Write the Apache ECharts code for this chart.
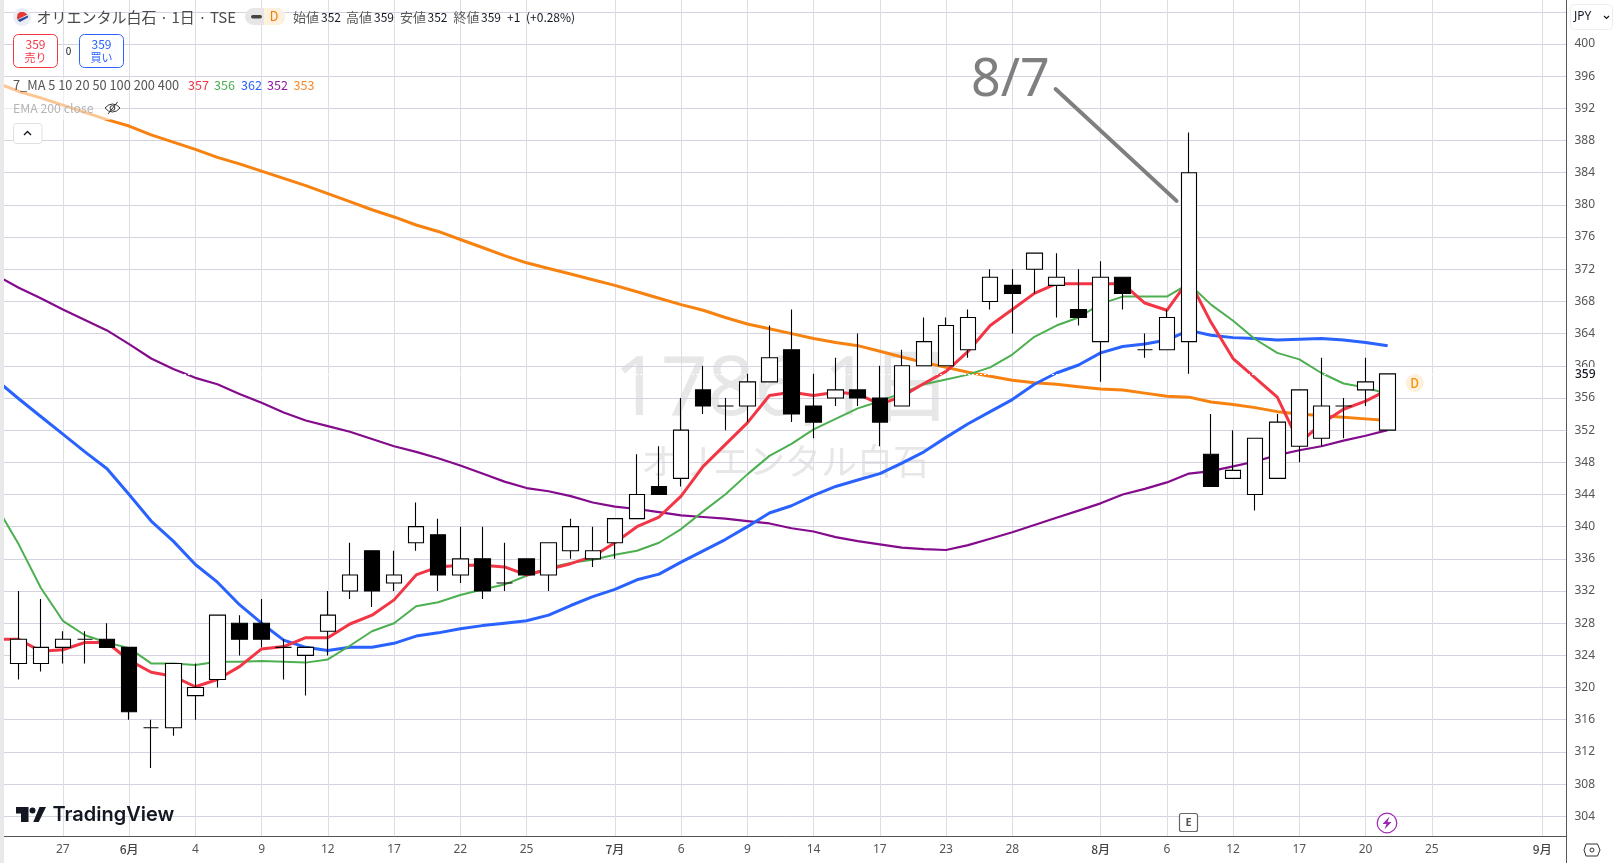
<!DOCTYPE html>
<html><head><meta charset="utf-8">
<style>html,body{margin:0;padding:0;background:#fff;overflow:hidden}#c{width:1615px;height:863px}</style>
<script src="https://cdn.jsdelivr.net/npm/echarts@6/dist/echarts.min.js"></script>
</head><body><div id="c"></div>
<script>
const opens =[323,323,325,326,326,325,315,315,319,321,328,328,325,324,327,332,337,333,338,339,334,336,333,336,334,337,336,338,341,345,346,357,355,355,358,362,355,356,357,356,355,360,360,362,368,370,372,370,367,363,371,362,362,363,349,346,344,346,350,351,355,357,352];
const closes=[326,325,326,326,325,317,315,323,320,329,326,326,325,325,329,334,332,334,340,334,336,332,333,334,338,340,337,341,344,344,352,355,355,358,361,354,353,357,356,353,360,363,365,366,371,369,374,371,366,371,369,362,366,384,345,347,351,353,357,355,355,358,359];
const highs =[332,331,327,327,328,325,316,323,323,329,329,331,326,325,332,338,337,337,343,341,340,340,338,336,338,341,340,341,349,350,356,360,356,359,365,367,359,361,364,360,362,366,366,367,372,372,374,374,372,373,371,364,367,389,354,352,351,354,357,361,356,361,359];
const lows  =[321,322,323,323,325,316,310,314,316,320,324,325,321,319,324,331,330,332,337,332,333,331,332,334,332,336,335,336,341,344,345,354,352,353,358,353,351,355,355,350,355,360,360,361,367,364,369,366,365,358,367,361,362,359,345,346,342,346,348,350,351,355,352];
// moving averages start one session before the first candle (index -1)
const maRed   =[326,326,324.5,324.7,325.6,325.6,323.4,321.9,321.4,320.1,321,322.6,324.8,325.1,326.2,326.2,327.9,329,330.9,334,335,335.2,335.2,335,334,334.7,335.4,336.3,338,340,341.2,343.8,347.5,350.2,352.9,356.3,356.7,356.3,356.7,356.5,355.2,356.2,357.8,359.3,361.8,365,367,369,370.2,370.2,370.2,370.2,367.8,366.9,370.7,365.4,360.9,358.5,356.1,350.4,352.8,354.6,355.6,357];
const maGreen =[342.5,337.8,332.4,328.3,326.5,325.6,324.9,323,323,322.8,323.2,323.2,323.3,323.2,323.1,323.5,325.2,327,328,330.1,330.6,331.5,332.2,332.8,333.9,334.9,335.5,335.9,336.5,337,338,339.7,341.9,344,346.5,348.8,350.3,352.1,353.4,354.7,355.6,356.6,357.7,358.3,358.9,359.8,361.4,363.6,365,366,367.7,368.6,368.6,368.6,370.2,367.6,365.6,363.3,361.6,360.8,359.1,357.8,357.3,356.5];
const maBlue  =[358.2,355.9,353.7,351.5,349.3,347.2,344,340.7,338.2,335.3,333.1,330.3,328,325.9,325,324.6,325,325,325.5,326.4,326.8,327.3,327.7,328,328.3,329,330.2,331.3,332.2,333.4,334.1,335.6,337,338.4,340,341.7,342.6,343.9,345,345.8,346.6,347.9,349.3,351.1,352.8,354.3,355.8,357.7,359.1,360.1,361.6,362.4,362.7,363.2,364.4,363.8,363.5,363.4,363.2,363.3,363.4,363.2,362.9,362.5];
const maPurple=[371.2,369.7,368.4,367,365.7,364.4,362.7,360.9,359.6,358.5,357.7,356.5,355.4,354.2,353.2,352.5,351.8,350.9,350,349.3,348.5,347.6,346.6,345.6,344.8,344.4,343.8,343,342.5,342.2,341.8,341.4,341.2,341,340.7,340.4,339.8,339.4,338.7,338.2,337.8,337.4,337.2,337.1,337.7,338.5,339.3,340.2,341.1,342,342.9,344,344.7,345.5,346.6,346.9,347.5,348.1,348.9,349.5,350,350.7,351.3,352];
const maOrange=[395.2,394.1,393.3,392.4,391.5,390.6,389.8,388.7,387.8,386.9,385.9,385.1,384.2,383.3,382.4,381.4,380.4,379.4,378.5,377.5,376.7,375.7,374.7,373.7,372.8,372.1,371.4,370.7,370,369.2,368.4,367.6,366.9,366,365.2,364.6,364,363.4,362.9,362.5,361.8,361.1,360.4,359.8,359.2,358.7,358.2,357.9,357.7,357.4,357.1,357,356.6,356.2,356.1,355.5,355.2,354.8,354.3,354,353.8,353.6,353.4,353.2];
const xTickIndex =[2,5,8,11,14,17,20,23,27,30,33,36,39,42,45,49,52,55,58,61,64,69];
const xTickLabels=['27','6月','4','9','12','17','22','25','7月','6','9','14','17','23','28','8月','6','12','17','20','25','9月'];
const yTicks=[304,308,312,316,320,324,328,332,336,340,344,348,352,356,360,364,368,372,376,380,384,388,392,396,400,404];
const annotationLine=[[46.96,394.4],[52.44,380.5]];
const lastPrice=359;

const FONT='"Noto Sans CJK JP","Noto Sans",sans-serif';
const candles=opens.map((o,i)=>[i,o,closes[i],lows[i],highs[i]]);
const maSeries=(name,arr,color,width)=>({name,type:'line',data:arr.map((v,i)=>[i-1,v]),symbol:'none',silent:true,z:2,
  lineStyle:{color,width,join:'round'},clip:true});
const tx=(x,y,text,size,fill,extra)=>({type:'text',x,y,z:33,style:Object.assign({text,fontSize:size,fill,fontFamily:FONT,verticalAlign:'middle'},extra||{})});

const chart=echarts.init(document.getElementById('c'),null,{renderer:'canvas'});
const hdr=[];
const stat=[[293,'始値',321,'352'],[346,'高値',374,'359'],[400,'安値',427.5,'352'],[453.6,'終値',481,'359']];
stat.forEach(s=>{hdr.push(tx(s[0],17,s[1],13,'#5a5a5a'));hdr.push(tx(s[2],17.5,s[3],12,'#131722'));});
hdr.push(tx(507,17.5,'+1',12,'#131722'),tx(526,17.5,'(+0.28%)',12,'#131722'));
const ma=[[13,'7_MA 5 10 20 50 100 200 400','#555',12.8],[188,'357','#f23645',12.6],[214,'356','#4caf50',12.6],[241,'362','#2962ff',12.6],[267,'352','#8e1a9e',12.6],[293.6,'353','#f5882a',12.6]];
ma.forEach(m=>hdr.push(tx(m[0],85,m[1],m[3],m[2])));

const graphics=[
 {type:'rect',z:40,shape:{x:0,y:0,width:4,height:863},style:{fill:'#e9e9e9'}},
 {type:'text',x:783,y:392,z:-1,style:{text:'1786,1日',fontSize:82,fill:'#e7e7e7',fontFamily:'"Noto Sans","Noto Sans CJK JP"',align:'center',verticalAlign:'middle'}},
 {type:'text',x:785,y:461,z:-1,style:{text:'オリエンタル白石',fontSize:36,fill:'#e7e7e7',fontFamily:FONT,align:'center',verticalAlign:'middle'}},
 {type:'rect',z:20,shape:{x:4,y:78,width:106.5,height:42},style:{fill:'rgba(255,255,255,0.55)'}},
 // symbol logo
 {type:'circle',z:30,shape:{cx:22,cy:17,r:9},style:{fill:'#e9edf5'}},
 {type:'polygon',z:31,shape:{points:[[17,18],[17.5,14],[20,12],[24,12],[27.5,14.5],[17.5,19.5]]},style:{fill:'#e53935'}},
 {type:'polygon',z:31,shape:{points:[[17.5,20],[28,15.5],[28,17.5],[20,22]]},style:{fill:'#2d4da0'}},
 tx(36.4,17,'オリエンタル白石 · 1日 · TSE',15,'#4a4a4a'),
 {type:'rect',z:30,shape:{x:245,y:8,width:40,height:17,r:8.5},style:{fill:'#e6e6e6'}},
 {type:'rect',z:31,shape:{x:264,y:8,width:21,height:17,r:[0,8.5,8.5,0]},style:{fill:'#fdf0dd'}},
 {type:'rect',z:32,shape:{x:251,y:15,width:11,height:3.4,r:1.7},style:{fill:'#444'}},
 tx(274,16.5,'D',12.5,'#f57c00',{align:'center'}),
 // trade buttons
 {type:'rect',z:30,shape:{x:13.5,y:34.5,width:44,height:33,r:5},style:{fill:'#fff',stroke:'#f23645',lineWidth:1}},
 tx(35.5,44,'359',12,'#f23645',{align:'center'}),tx(35.5,58,'売り',11,'#f23645',{align:'center'}),
 tx(68.6,51,'0',10,'#131722',{align:'center'}),
 {type:'rect',z:30,shape:{x:79.5,y:34.5,width:44,height:33,r:5},style:{fill:'#fff',stroke:'#2962ff',lineWidth:1}},
 tx(101.5,44,'359',12,'#2962ff',{align:'center'}),tx(101.5,58,'買い',11,'#2962ff',{align:'center'}),
 tx(13,108,'EMA 200 close',12.3,'#b4b4b4'),
 {type:'polygon',z:31,shape:{points:[[105,108],[108.5,105],[112.5,104],[116.5,105],[120,108],[116.5,111],[112.5,112],[108.5,111]]},style:{fill:'#fff',stroke:'#333',lineWidth:1}},
 {type:'circle',z:32,shape:{cx:112.5,cy:108,r:2.4},style:{fill:'none',stroke:'#333',lineWidth:1}},
 {type:'line',z:32,shape:{x1:108,y1:114,x2:117.5,y2:102},style:{stroke:'#333',lineWidth:1}},
 {type:'rect',z:30,shape:{x:13.5,y:123.5,width:28.5,height:20,r:3},style:{fill:'#fff',stroke:'#e0e0e0',lineWidth:1}},
 {type:'polyline',z:31,shape:{points:[[24,135],[27.5,131.5],[31,135]]},style:{stroke:'#131722',lineWidth:1.4,fill:'none'}},
 // annotation text
 {type:'text',x:971,y:81,z:25,style:{text:'8/7',fontSize:52,fill:'#7f7f7f',fontFamily:'"Noto Sans"',verticalAlign:'middle'}},
 // price scale furniture
 {type:'rect',z:30,shape:{x:1570.5,y:4.5,width:42,height:25,r:4},style:{fill:'#fff',stroke:'#eeeeee',lineWidth:1}},
 tx(1574,17,'JPY',12,'#131722',{fontFamily:'"Noto Sans"'}),
 {type:'polyline',z:31,shape:{points:[[1604,16],[1606.5,18.5],[1609,16]]},style:{stroke:'#131722',lineWidth:1.2,fill:'none'}},
 {type:'text',x:1575,y:375,z:30,style:{text:String(lastPrice),fontSize:12,fill:'#131722',fontFamily:'"Noto Sans"',verticalAlign:'middle',backgroundColor:'#fff',padding:[2,6,2,0],fontWeight:500}},
 // last bar badge
 {type:'circle',z:30,shape:{cx:1414.7,cy:383,r:9},style:{fill:'#fdf0dd'}},
 tx(1414.7,383,'D',12.5,'#f7930e',{align:'center',fontWeight:500}),
 // earnings and dividend-style event marks
 {type:'rect',z:30,shape:{x:1179.5,y:813.5,width:18,height:18,r:2},style:{fill:'#fff',stroke:'#666',lineWidth:1.2}},
 tx(1188.5,822.5,'E',11,'#555',{align:'center',fontWeight:700,fontFamily:'"Noto Sans"'}),
 {type:'circle',z:30,shape:{cx:1387,cy:823,r:9.8},style:{fill:'#fff',stroke:'#9c27b0',lineWidth:1.2}},
 {type:'polygon',z:31,shape:{points:[[1389.5,816.5],[1382.5,824],[1386.5,824],[1384.5,829.5],[1391.5,822],[1387.5,822]]},style:{fill:'#9c27b0'}},
 // settings hex
 {type:'polygon',z:30,shape:{points:[[1586,844],[1597.5,844],[1600,850],[1597.5,856],[1586,856],[1584,850]]},style:{fill:'#fff',stroke:'#333',lineWidth:1}},
 {type:'circle',z:31,shape:{cx:1592,cy:850,r:2},style:{fill:'none',stroke:'#333',lineWidth:1}},
 // TradingView wordmark
 {type:'polygon',z:30,shape:{points:[[16,807],[28.5,807],[28.5,822],[21,822],[21,813.5],[16,813.5]]},style:{fill:'#131722'}},
 {type:'circle',z:30,shape:{cx:32.5,cy:810.5,r:3},style:{fill:'#131722'}},
 {type:'polygon',z:30,shape:{points:[[39.5,807],[46,807],[38.7,822],[33.3,822]]},style:{fill:'#131722'}},
 {type:'text',x:52.5,y:815,z:30,style:{text:'TradingView',fontSize:20,fontWeight:600,fill:'#131722',fontFamily:'Inter',verticalAlign:'middle'}},
 // axis frame continuation
 {type:'line',z:40,shape:{x1:1566.5,y1:0,x2:1566.5,y2:863},style:{stroke:'#555',lineWidth:1}}
].concat(hdr);

chart.setOption({
 animation:false,
 grid:{left:4,right:48.5,top:0,bottom:26.7,containLabel:false},
 xAxis:{type:'value',min:-0.666,max:70.1,position:'bottom',
   axisLine:{onZero:false,show:true,lineStyle:{color:'#555',width:1}},
   axisTick:{show:false,customValues:xTickIndex},
   splitLine:{show:true,lineStyle:{color:'#dcdde6',width:1}},
   axisLabel:{customValues:xTickIndex,color:'#555',fontSize:12,fontFamily:'"Noto Sans","Noto Sans CJK JP"',margin:7,hideOverlap:false,
     showMinLabel:true,showMaxLabel:true,
     formatter:v=>{const i=xTickIndex.indexOf(v);const t=xTickLabels[i]||'';return t.indexOf('月')>=0?'{m|'+t+'}':t;},
     rich:{m:{color:'#444',fontSize:12,fontWeight:500,fontFamily:FONT}}}},
 yAxis:{type:'value',min:301.51,max:405.47,position:'right',
   axisLine:{show:false},
   axisTick:{show:false,customValues:yTicks},
   splitLine:{show:true,lineStyle:{color:'#d3d4e0',width:1}},
   axisLabel:{customValues:yTicks.slice(0,-1),color:'#555',fontSize:12,fontFamily:'"Noto Sans"',margin:8,padding:[7,0,0,0],hideOverlap:false}},
 graphic:{elements:graphics},
 series:[
  maSeries('EMA400',maOrange,'#f7820f',3),
  maSeries('MA100',maPurple,'#840b8c',2.2),
  maSeries('MA50',maBlue,'#2962ff',3),
  maSeries('MA20',maGreen,'#4caf50',2),
  maSeries('MA5',maRed,'#f23645',3),
  {name:'7_MA',type:'candlestick',data:candles,barWidth:16,z:5,silent:true,clip:true,
   itemStyle:{color:'#fff',color0:'#000',borderColor:'#000',borderColor0:'#000',borderColorDoji:'#000',borderWidth:1.1},
   markLine:{silent:true,symbol:'none',animation:false,label:{show:false},precision:4,
     lineStyle:{color:'#fff',width:1,type:[2,2]},data:[{yAxis:lastPrice}]}},
  {name:'annotation',type:'line',data:annotationLine,symbol:'none',silent:true,z:6,lineStyle:{color:'#7f7f7f',width:4,cap:'round'}}
 ]
});
</script></body></html>
